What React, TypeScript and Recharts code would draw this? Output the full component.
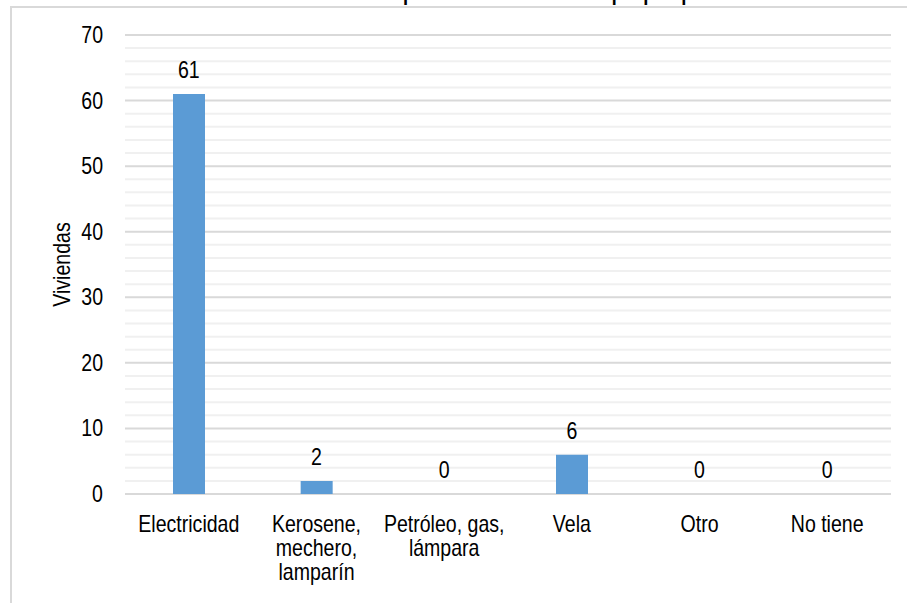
import React from 'react';
import {
  ComposedChart,
  Bar,
  Line,
  XAxis,
  YAxis,
  CartesianGrid,
} from 'recharts';

const categories = ['Electricidad', 'Kerosene,\nmechero,\nlamparín', 'Petróleo, gas,\nlámpara', 'Vela', 'Otro', 'No tiene'];
const viviendas = [61, 2, 0, 6, 0, 0];
const majorTicks = [0, 10, 20, 30, 40, 50, 60, 70];
const minorTicks = [2, 4, 6, 8, 12, 14, 16, 18, 22, 24, 26, 28, 32, 34, 36, 38, 42, 44, 46, 48, 52, 54, 56, 58, 62, 64, 66, 68];
const yMax = 70;

// Arial Narrow look: regular sans squeezed horizontally
const FONT = '"Liberation Sans", Arial, sans-serif';
const FS = 23;
const SQ = 0.85;

const data = categories.map((c, i) => ({ name: c, value: viviendas[i] }));

const NarrowText = ({ x, y, anchor = 'middle', children, rotate = 0 }: any) => (
  <g transform={`translate(${x},${y}) rotate(${rotate}) scale(${SQ},1)`}>
    <text x={0} y={0} textAnchor={anchor} fontFamily={FONT} fontSize={FS} fill="#000">
      {children}
    </text>
  </g>
);

const CategoryTick = (props: any) => {
  const { x, y, payload } = props;
  const lines = String(payload.value).split('\n');
  return (
    <g transform={`translate(${x},${y}) scale(${SQ},1)`}>
      <text x={0} y={0} textAnchor="middle" fontFamily={FONT} fontSize={FS} fill="#000">
        {lines.map((l, i) => (
          <tspan key={i} x={0} dy={i === 0 ? 30 : 24}>
            {l}
          </tspan>
        ))}
      </text>
    </g>
  );
};

const ValueTick = (props: any) => {
  const { x, y, payload } = props;
  return (
    <NarrowText x={x - 14} y={y + 8} anchor="end">
      {payload.value}
    </NarrowText>
  );
};

const AxisTitle = (props: any) => {
  const { viewBox } = props;
  const cy = viewBox.y + viewBox.height / 2;
  return (
    <NarrowText x={70} y={cy} rotate={-90}>
      Viviendas
    </NarrowText>
  );
};

const PointValue = (props: any) => {
  const { x, y, value } = props;
  return (
    <NarrowText x={x} y={y - 16}>
      {value}
    </NarrowText>
  );
};

const minorLines = ({ yAxis, offset }: any) =>
  minorTicks.map((t) =>
    yAxis && typeof yAxis.scale === 'function'
      ? yAxis.scale(t)
      : offset.top + offset.height * (1 - t / yMax)
  );

const App: React.FC = () => {
  return (
    <div
      style={{
        position: 'fixed',
        left: 0,
        top: 0,
        width: 907,
        height: 603,
        overflow: 'hidden',
        background: '#fff',
      }}
    >
      {/* title sits mostly above the crop, as in the source image */}
      <div
        style={{
          position: 'absolute',
          left: 420,
          top: -21,
          transform: 'translateX(-50%) scaleX(0.8)',
          fontFamily: FONT,
          fontWeight: 'bold',
          fontSize: FS,
          color: '#000',
          whiteSpace: 'nowrap',
        }}
      >
        Gráfico N° 11: Viviendas con tipo de alumbrado en Sequiapampa
      </div>
      <div
        style={{
          position: 'absolute',
          left: 10,
          top: 6,
          width: 907,
          height: 610,
          borderLeft: '2px solid #d9d9d9',
          borderTop: '2px solid #d9d9d9',
        }}
      />
      <div style={{ position: 'absolute', left: 0, top: 0 }}>
        <ComposedChart
          width={907}
          height={603}
          data={data}
          margin={{ top: 35, right: 16, bottom: 19, left: 40 }}
          barSize={32}
        >
          <CartesianGrid
            vertical={false}
            stroke="#f0f0f0"
            strokeWidth={2}
            horizontalCoordinatesGenerator={minorLines}
          />
          <CartesianGrid vertical={false} stroke="#d9d9d9" strokeWidth={2} />
          <XAxis
            dataKey="name"
            interval={0}
            height={90}
            axisLine={false}
            tickLine={false}
            tick={<CategoryTick />}
          />
          <YAxis
            width={85}
            domain={[0, yMax]}
            ticks={majorTicks}
            axisLine={false}
            tickLine={false}
            tick={<ValueTick />}
            label={<AxisTitle />}
          />
          <Bar dataKey="value" fill="#5b9bd5" isAnimationActive={false} />
          <Line
            dataKey="value"
            stroke="none"
            dot={false}
            activeDot={false}
            legendType="none"
            isAnimationActive={false}
            label={<PointValue />}
          />
        </ComposedChart>
      </div>
    </div>
  );
};

export default App;
